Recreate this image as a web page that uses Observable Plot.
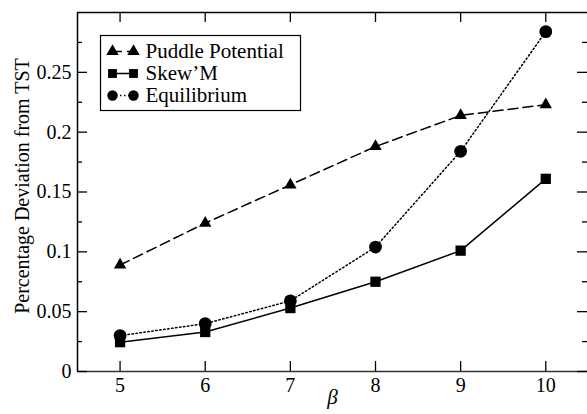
<!DOCTYPE html>
<html>
<head>
<meta charset="utf-8">
<script src="https://cdn.jsdelivr.net/npm/d3@7"></script>
<script src="https://cdn.jsdelivr.net/npm/@observablehq/plot@0.6"></script>
<style>
  html, body { margin: 0; padding: 0; background: #fff; }
  #chart svg { display: block; }
</style>
</head>
<body>
<div id="chart"></div>
<script>
// ---- data ----
const betas = [5, 6, 7, 8, 9, 10];
const puddle = [0.089, 0.124, 0.156, 0.188, 0.214, 0.223];
const skewM = [0.0245, 0.033, 0.053, 0.075, 0.101, 0.161];
const equilibrium = [0.030, 0.040, 0.059, 0.104, 0.184, 0.284];
const seriesNames = ["Puddle Potential", "Skew\u2019M", "Equilibrium"];
const xTicks = [5, 6, 7, 8, 9, 10];
const yMajor = [0, 0.05, 0.1, 0.15, 0.2, 0.25];
const yMinor = [0.025, 0.075, 0.125, 0.175, 0.225, 0.275];
const yLabels = ["0", "0.05", "0.1", "0.15", "0.2", "0.25"];
const xTitle = "\u03b2";
const yTitle = "Percentage Deviation from TST";

const mk = (vals) => betas.map((b, i) => ({beta: b, v: vals[i]}));
const rowsP = mk(puddle), rowsS = mk(skewM), rowsE = mk(equilibrium);

// ---- layout ----
const width = 587, height = 414;
const mL = 77, mR = 0, mT = 12, mB = 43;
const W = width - mL - mR, H = height - mT - mB;
const xDom = [4.5, 10.49], yDom = [0, 0.3];
const FF = "Liberation Serif";

const styles = [
  {name: seriesNames[0], rows: rowsP, symbol: "triangle", r: 4.6, dash: "10,5"},
  {name: seriesNames[1], rows: rowsS, symbol: "square", r: 5.8, dash: null},
  {name: seriesNames[2], rows: rowsE, symbol: "circle", r: 6.4, dash: "1.5,2.5"}
];
const legendR = [4.6, 5.0, 5.2];

const marks = [];
// axes lines
marks.push(Plot.ruleX([xDom[0]], {x: d => d, stroke: "#000", strokeWidth: 1.5}));
marks.push(Plot.ruleY([yDom[0]], {y: d => d, stroke: "#333", strokeWidth: 1.5}));
marks.push(Plot.ruleY([yDom[1]], {y: d => d, stroke: "#000", strokeWidth: 1.5}));
// inward ticks
marks.push(Plot.tickX(xTicks, {x: d => d, insetTop: H - 10, stroke: "#000", strokeWidth: 1.3}));
marks.push(Plot.tickX(xTicks, {x: d => d, insetBottom: H - 10, stroke: "#000", strokeWidth: 1.3}));
marks.push(Plot.tickY(yMajor, {y: d => d, insetRight: W - 10, stroke: "#000", strokeWidth: 1.3}));
marks.push(Plot.tickY(yMinor, {y: d => d, insetRight: W - 5, stroke: "#000", strokeWidth: 1.3}));
marks.push(Plot.tickY(yMajor, {y: d => d, insetLeft: W - 10, stroke: "#000", strokeWidth: 1.3}));
marks.push(Plot.tickY(yMinor, {y: d => d, insetLeft: W - 5, stroke: "#000", strokeWidth: 1.3}));
// tick labels
marks.push(Plot.axisX({ticks: xTicks, tickSize: 0, tickPadding: 6, fontSize: 20, fontFamily: FF, label: null, tickFormat: d => String(d)}));
marks.push(Plot.axisY({ticks: yMajor, tickSize: 0, tickPadding: 6, fontSize: 20, fontFamily: FF, label: null, tickFormat: d => yLabels[yMajor.indexOf(d)]}));
// titles
marks.push(Plot.text([xTitle], {text: d => d, frameAnchor: "bottom", lineAnchor: "middle", dy: 26, fontSize: 21, fontStyle: "italic", fontFamily: FF}));
marks.push(Plot.text([yTitle], {text: d => d, frameAnchor: "left", textAnchor: "middle", lineAnchor: "middle", dx: -55, dy: -6, rotate: -90, fontSize: 20, fontFamily: FF}));

// series
for (const s of styles) {
  marks.push(Plot.line(s.rows, {x: "beta", y: "v", stroke: "#000", strokeWidth: 1.5, strokeDasharray: s.dash}));
  marks.push(Plot.dot(s.rows, {x: "beta", y: "v", symbol: s.symbol, r: s.r, fill: "#000", stroke: "none"}));
}

// legend
marks.push(Plot.frame({insetLeft: 23, insetTop: 23, insetRight: W - 223, insetBottom: H - 98, stroke: "#000", strokeWidth: 1.2}));
styles.forEach((s, i) => {
  const dy = 39 + i * 22;
  marks.push(Plot.ruleY([yDom[1]], {y: d => d, insetLeft: 35, insetRight: W - 56, dy, stroke: "#000", strokeWidth: 1.5, strokeDasharray: s.dash}));
  marks.push(Plot.dot([0], {frameAnchor: "top-left", dx: 35, dy, symbol: s.symbol, r: legendR[i], fill: "#000", stroke: "none"}));
  marks.push(Plot.dot([0], {frameAnchor: "top-left", dx: 56, dy, symbol: s.symbol, r: legendR[i], fill: "#000", stroke: "none"}));
  marks.push(Plot.text([s.name], {text: d => d, frameAnchor: "top-left", textAnchor: "start", lineAnchor: "middle", dx: 68, dy, fontSize: 21, fontFamily: FF}));
});

const chart = Plot.plot({
  width, height,
  marginLeft: mL, marginRight: mR, marginTop: mT, marginBottom: mB,
  style: {fontFamily: FF, background: "#fff", color: "#000"},
  x: {domain: xDom, axis: null},
  y: {domain: yDom, axis: null},
  symbol: {type: "identity"},
  marks
});
document.getElementById("chart").appendChild(chart);
</script>
</body>
</html>
